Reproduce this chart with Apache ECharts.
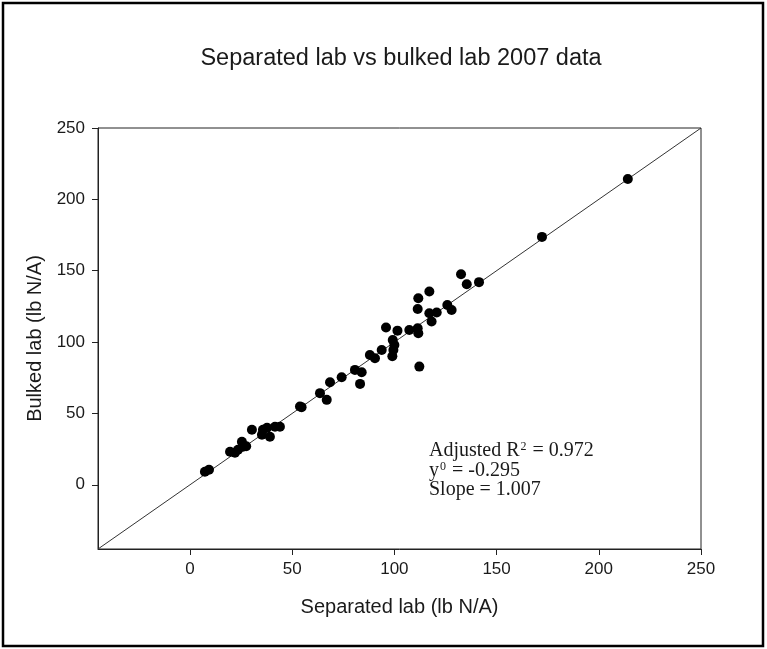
<!DOCTYPE html>
<html>
<head>
<meta charset="utf-8">
<script src="https://cdn.jsdelivr.net/npm/echarts@6/dist/echarts.min.js"></script>
<style>
  html, body { margin: 0; padding: 0; background: #fff; }
  #chart { width: 767px; height: 649px; }
</style>
</head>
<body>
<div id="chart"></div>
<script>
// Separated-lab vs bulked-lab N results (lb N/A), 2007
const separatedLab = [
  7.3, 9.3, 19.6, 22.0, 23.5, 25.9, 25.4, 27.5, 30.3, 35.7,
  37.7, 35.2, 39.1, 41.6, 44.0, 53.8, 54.6, 63.6, 66.9, 68.5,
  74.2, 80.7, 84.0, 83.2, 88.0, 90.5, 93.8, 95.9, 101.5, 99.2,
  100.0, 99.5, 99.0, 107.3, 111.4, 111.7, 112.2, 111.4, 111.7, 117.1,
  117.1, 120.7, 118.2, 125.9, 128.0, 132.6, 135.4, 141.4, 172.2, 214.2
];
const bulkedLab = [
  9.1, 10.5, 23.1, 22.4, 24.5, 26.6, 30.1, 27.0, 38.5, 38.5,
  40.0, 35.0, 33.6, 40.6, 40.6, 54.8, 54.4, 64.2, 59.5, 71.9,
  75.4, 80.5, 78.9, 70.7, 91.0, 88.7, 94.5, 110.2, 108.0, 101.5,
  98.0, 94.5, 90.0, 108.5, 109.7, 106.2, 82.8, 123.2, 130.7, 135.4,
  120.2, 120.7, 114.4, 126.0, 122.5, 147.5, 140.5, 142.0, 173.7, 214.3
];
// 1:1 reference line across the full axis range
const lineX = [-45, 250];
const lineY = [-45, 250];
const tickValues = [0, 50, 100, 150, 200, 250];
const axisMin = -45;
const axisMax = 250;

const points = separatedLab.map((x, i) => [x, bulkedLab[i]]);
const linePts = lineX.map((x, i) => [x, lineY[i]]);

const textColor = '#1a1a1a';
const sans = 'Arial, "Liberation Sans", sans-serif';
const serif = '"Times New Roman", "Liberation Serif", serif';

function valueAxis(name, nameGap, labelMargin) {
  return {
    type: 'value',
    min: axisMin,
    max: axisMax,
    name: name,
    nameLocation: 'middle',
    nameGap: nameGap,
    nameTextStyle: { fontFamily: sans, fontSize: 20, color: textColor },
    axisLine: { show: true, onZero: false, lineStyle: { color: '#222', width: 1 } },
    axisTick: { show: true, inside: false, length: 6, customValues: tickValues, lineStyle: { color: '#222' } },
    axisLabel: { customValues: tickValues, margin: labelMargin, fontFamily: sans, fontSize: 17, color: textColor },
    splitLine: { show: false }
  };
}

const chart = echarts.init(document.getElementById('chart'), null, { renderer: 'canvas' });
chart.setOption({
  animation: false,
  backgroundColor: '#fff',
  title: {
    text: 'Separated lab vs bulked lab 2007 data',
    left: 396,
    top: 42,
    textAlign: 'center',
    textStyle: { fontFamily: sans, fontSize: 23.5, fontWeight: 'normal', color: textColor }
  },
  grid: {
    left: 98, top: 128, right: 66, bottom: 100,
    show: true, borderColor: '#222', borderWidth: 1, backgroundColor: 'transparent'
  },
  xAxis: valueAxis('Separated lab (lb N/A)', 48, 12),
  yAxis: valueAxis('Bulked lab (lb N/A)', 49, 13),
  graphic: [
    {
      type: 'rect',
      shape: { x: 3, y: 3, width: 760, height: 643 },
      style: { fill: 'none', stroke: '#000', lineWidth: 2.5 },
      silent: true
    },
    {
      type: 'text',
      left: 429,
      top: 441,
      style: {
        text: '{t|Adjusted R}{s|2}{t| = 0.972}\n{t|y}{s|0}{t| = -0.295}\n{t|Slope = 1.007}',
        fill: textColor,
        rich: {
          t: { fontFamily: serif, fontSize: 20, lineHeight: 19.5, fill: textColor },
          s: { fontFamily: serif, fontSize: 12, lineHeight: 19.5, verticalAlign: 'top', padding: [0, 1, 8, 1], fill: textColor }
        }
      }
    }
  ],
  series: [
    {
      type: 'line',
      data: linePts,
      symbol: 'none',
      lineStyle: { color: '#333', width: 1 },
      silent: true,
      z: 1
    },
    {
      type: 'scatter',
      data: points,
      symbol: 'circle',
      symbolSize: 10,
      itemStyle: { color: '#000', opacity: 1 },
      z: 2
    }
  ]
});
</script>
</body>
</html>
